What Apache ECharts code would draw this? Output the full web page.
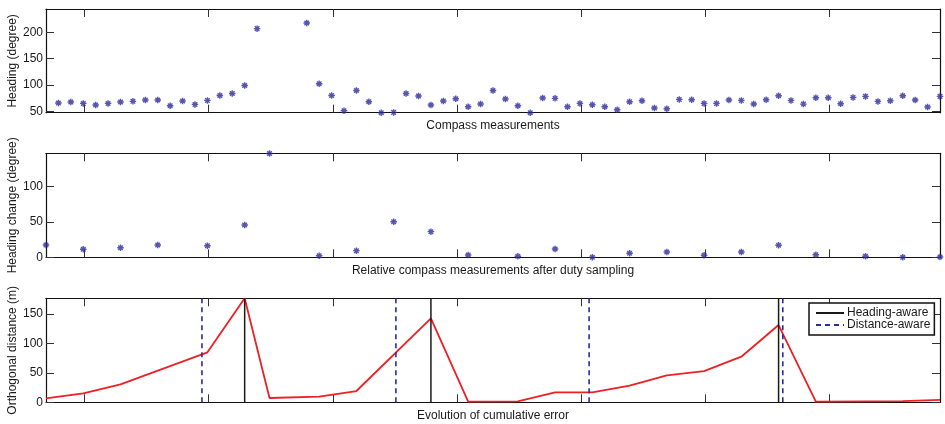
<!DOCTYPE html>
<html>
<head>
<meta charset="utf-8">
<script src="https://cdn.jsdelivr.net/npm/echarts@6/dist/echarts.min.js"></script>
<style>html,body{margin:0;padding:0;background:#fff}#c{width:945px;height:424px}</style>
</head>
<body>
<div id="c"></div>
<script>
// ---- data ----
const headingValues = [65.8,67.8,65.1,62,65.1,67.8,69,71.5,71.5,60.8,69.6,63.2,70.8,80.2,84,99.1,206.8,null,null,null,
  217.6,102.3,80.2,51.3,89.7,68.3,47.5,48.1,84,79.1,62,69.6,74,58.9,64,89.7,73.4,60.8,47.5,75.3,
  74.7,58.9,65.1,62.7,58.9,53.2,68.3,70.2,56.4,55.1,72.7,72.1,65.1,65.1,71.5,70.8,64,72.1,79.7,70.8,
  63.8,75.9,75.9,64.5,76.5,78.4,68.9,70.2,79.7,71.5,58.3,78.4];
const sampledX = [0,3,6,9,13,16,18,22,25,28,31,34,38,41,44,47,50,53,56,59,62,66,69,72];
const headingChange = [17.4,11.3,13.6,17.4,16.4,45.8,147,2.3,9.4,50.4,36.3,3.3,1.4,11.8,0,5.7,7.5,2.8,7.5,17,3.7,1.4,0,0.4];
const errorX = [0,3,6,13,16,18,22,25,31,34,38,41,44,47,50,53,56,59,62,66,69,72];
const errorValues = [6.8,15.3,30.6,85,177,7.3,9.5,19.2,142.9,1,1.7,17,17,28.3,45.9,53.2,77.6,131.5,1,1.5,2,4];
const headingAwareX = [16,31,59];
const distanceAwareX = [12.56,28.18,43.74,59.34];
const xTicks = [3.1,13.1,23.1,33.1,43.1,53.1,63.1];
const yTicksTop = [50,100,150,200];
const yTicksMid = [0,50,100];
const yTicksBot = [0,50,100,150];
const xRange = [0,72];
const yRangeTop = [47.5,244];
const yRangeMid = [0,147.3];
const yRangeBot = [0,177];

// ---- chart ----
const FONT = "'Liberation Sans', Arial, sans-serif";
const TXT = '#1a1a1a';
const grids = [
  {left:46, top:9, width:894, height:103.7, containLabel:false, outerBoundsMode:'none'},
  {left:46, top:153.3, width:894, height:104, containLabel:false, outerBoundsMode:'none'},
  {left:46, top:298.3, width:894, height:104, containLabel:false, outerBoundsMode:'none'}
];
const xNames = ['Compass measurements','Relative compass measurements after duty sampling','Evolution of cumulative error'];
const yNames = ['Heading (degree)','Heading change (degree)','Orthogonal distance (m)'];
const yRanges = [yRangeTop,yRangeMid,yRangeBot];
const yTicks = [yTicksTop,yTicksMid,yTicksBot];
const lineAx = {show:true, onZero:false, lineStyle:{color:'#111', width:1.2}};
const xAxes = [], yAxes = [];
for (let g=0; g<3; g++) {
  ['bottom','top'].forEach((pos,k)=>{
    xAxes.push({
      type:'value', gridIndex:g, position:pos, min:xRange[0], max:xRange[1],
      axisLine:lineAx, splitLine:{show:false},
      axisTick:{show:true, inside:true, length:8, customValues:xTicks, lineStyle:{color:'#333',width:1}},
      axisLabel:{show:false, customValues:xTicks},
      name: k===0 ? xNames[g] : '', nameLocation:'middle', nameGap:7, nameMoveOverlap:false,
      nameTextStyle:{fontFamily:FONT, fontSize:12, color:TXT, verticalAlign:'top'}
    });
  });
  ['left','right'].forEach((pos,k)=>{
    yAxes.push({
      type:'value', gridIndex:g, position:pos, min:yRanges[g][0], max:yRanges[g][1],
      axisLine:lineAx, splitLine:{show:false},
      axisTick:{show:true, inside:true, length:8, customValues:yTicks[g], lineStyle:{color:'#333',width:1}},
      axisLabel:{show:k===0, customValues:yTicks[g], fontFamily:FONT, fontSize:12, color:TXT, margin:3},
      name: k===0 ? yNames[g] : '', nameLocation:'middle', nameGap:27, nameRotate:90, nameMoveOverlap:false,
      nameTextStyle:{fontFamily:FONT, fontSize:12, color:TXT}
    });
  });
}
const star = 'path://M5,0L5,10M0,5L10,5M1.5,1.5L8.5,8.5M1.5,8.5L8.5,1.5';
const starStyle = {color:'rgba(0,0,0,0)', borderColor:'#2a2a9a', borderWidth:1.4};
const series = [
  {type:'scatter', xAxisIndex:0, yAxisIndex:0, symbol:star, symbolSize:6.5, clip:false, itemStyle:starStyle,
   data: headingValues.map((v,i)=> v===null ? null : [i+1, v]).filter(d=>d)},
  {type:'scatter', xAxisIndex:2, yAxisIndex:2, symbol:star, symbolSize:6.5, clip:false, itemStyle:starStyle,
   data: sampledX.map((x,i)=>[x, headingChange[i]])},
  {type:'line', xAxisIndex:4, yAxisIndex:4, symbol:'none', z:3,
   lineStyle:{color:'#ee1f25', width:1.8}, data: errorX.map((x,i)=>[x, errorValues[i]])}
];
headingAwareX.forEach(x=>series.push({
  name:'Heading-aware', type:'line', xAxisIndex:4, yAxisIndex:4, symbol:'circle', showSymbol:false, z:4,
  lineStyle:{color:'#1a1a1a', width:1.5}, itemStyle:{color:'#1a1a1a'},
  data:[[x, yRangeBot[0]],[x, yRangeBot[1]]]
}));
distanceAwareX.forEach(x=>series.push({
  name:'Distance-aware', type:'line', xAxisIndex:4, yAxisIndex:4, symbol:'circle', showSymbol:false, z:4,
  lineStyle:{color:'#2a2a9c', width:1.6, type:[5,4]}, itemStyle:{color:'#2a2a9c'},
  data:[[x, yRangeBot[0]],[x, yRangeBot[1]]]
}));
const chart = echarts.init(document.getElementById('c'), null, {renderer:'canvas'});
chart.setOption({
  animation:false,
  backgroundColor:'#fff',
  grid: grids,
  xAxis: xAxes,
  yAxis: yAxes,
  legend: {
    data:['Heading-aware','Distance-aware'], orient:'vertical', left:809, top:303,
    backgroundColor:'#fff', borderColor:'#111', borderWidth:1.5,
    padding:[4,4,4,6], itemGap:0, itemWidth:28, itemHeight:12,
    itemStyle:{opacity:0},
    textStyle:{fontFamily:FONT, fontSize:12, color:TXT, padding:[0,0,0,-2]},
    selectedMode:false
  },
  series: series
});
</script>
</body>
</html>
